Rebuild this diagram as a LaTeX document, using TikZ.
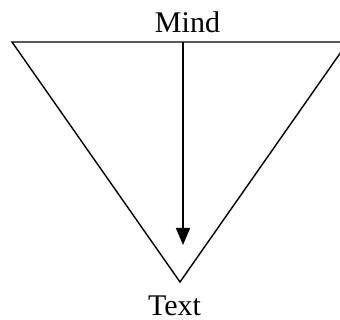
\documentclass[tikz,border=0pt]{standalone}
\usepackage{fontspec}
\setmainfont{Liberation Serif}
\usetikzlibrary{arrows.meta}
\begin{document}
\begin{tikzpicture}[x=1pt,y=1pt,
  edge/.style={line width=1.4pt,line join=miter},
  lbl/.style={font=\fontsize{30}{30}\selectfont,inner sep=0pt,anchor=base}]
\useasboundingbox (0,0) rectangle (340,320);
\clip (0,0) rectangle (340,320);
\coordinate (tl) at (12,278);
\coordinate (tr) at (348,278);
\coordinate (bv) at (180,38);
\coordinate (as) at (183,278);
\coordinate (ae) at (183,75);
\draw[edge] (tl) -- (tr) -- (bv) -- cycle;
\draw[line width=1.6pt,-{Triangle[length=17pt,width=14pt]}] (as) -- (ae);
\node[lbl] (mind) at (187.5,287) {Mind};
\node[lbl] (text) at (174.5,4) {Text};
\end{tikzpicture}
\end{document}
